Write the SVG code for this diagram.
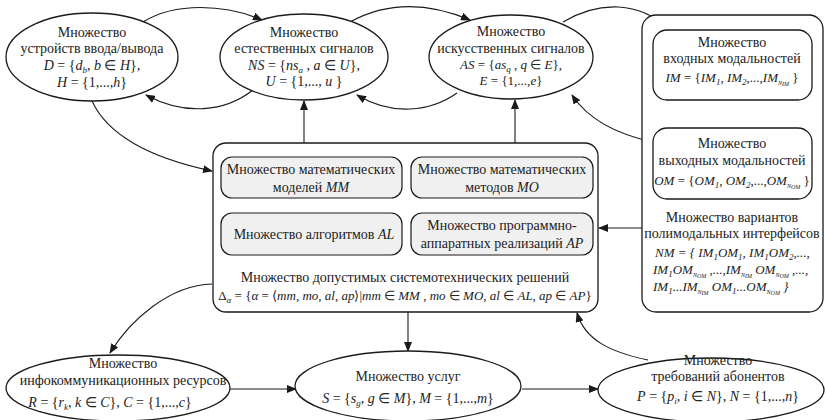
<svg xmlns="http://www.w3.org/2000/svg" width="826" height="420" viewBox="0 0 826 420">
<defs>
<marker id="ah" markerWidth="10" markerHeight="8" refX="9" refY="4" orient="auto" markerUnits="userSpaceOnUse">
<path d="M0,0 L10,4 L0,8 Z" fill="#1a1a1a"/>
</marker>
<style>
.n{fill:#fff;stroke:#1a1a1a;stroke-width:1.3}
.g{fill:#f0f0f0;stroke:#1a1a1a;stroke-width:1.2}
.c{fill:none;stroke:#1a1a1a;stroke-width:1.1;marker-end:url(#ah)}
</style>
</defs>
<rect width="826" height="420" fill="#fff"/>

<g id="connectors">
<path class="c" d="M143,22 C175,2 225,4 262,20"/>
<path class="c" d="M253,90 C225,112 185,116 146,95"/>
<path class="c" d="M350,22 C390,0 432,4 470,20"/>
<path class="c" d="M457,93 C430,112 392,116 357,95"/>
<path class="c" d="M563,22 C600,0 640,2 667,28"/>
<path class="c" d="M653,142 C620,135 590,122 572,95"/>
<path class="c" d="M92,101 C110,140 160,160 212,171"/>
<path class="c" d="M212,284 C170,285 130,320 110,353"/>
<path class="c" d="M304,143 L304,101"/>
<path class="c" d="M515,143 L515,100"/>
<path class="c" d="M642,228 L599,228"/>
<path class="c" d="M408,312 L408,351"/>
<path class="c" d="M230,389 L296,389"/>
<path class="c" d="M522,389 L598,389"/>
<path class="c" d="M648,360 C610,352 585,340 577,313"/>
</g>

<g id="devices">
<ellipse class="n" cx="92" cy="57" rx="86" ry="44"/>
<text font-family="Liberation Serif, serif" font-size="14" text-anchor="middle" fill="#222" x="92" y="37">Множество</text>
<text font-family="Liberation Serif, serif" font-size="14" text-anchor="middle" fill="#222" x="92" y="53">устройств ввода/вывода</text>
<text font-family="Liberation Serif, serif" font-size="14" text-anchor="middle" fill="#222" x="92" y="70"><tspan font-style="italic">D</tspan> = {<tspan font-style="italic">d</tspan><tspan font-style="italic" font-size="9" dy="3">b</tspan><tspan dy="-3">, </tspan><tspan font-style="italic">b</tspan> ∈ <tspan font-style="italic">H</tspan>},</text>
<text font-family="Liberation Serif, serif" font-size="14" text-anchor="middle" fill="#222" x="92" y="87"><tspan font-style="italic">H</tspan> = {1,...,<tspan font-style="italic">h</tspan>}</text>
</g>

<g id="natural">
<ellipse class="n" cx="304" cy="57" rx="84" ry="43"/>
<text font-family="Liberation Serif, serif" font-size="14" text-anchor="middle" fill="#222" x="304" y="37">Множество</text>
<text font-family="Liberation Serif, serif" font-size="14" text-anchor="middle" fill="#222" x="304" y="53">естественных сигналов</text>
<text font-family="Liberation Serif, serif" font-size="14" text-anchor="middle" fill="#222" x="304" y="70"><tspan font-style="italic">NS</tspan> = {<tspan font-style="italic">ns</tspan><tspan font-style="italic" font-size="9" dy="3">a</tspan><tspan dy="-3"> , </tspan><tspan font-style="italic">a</tspan> ∈ <tspan font-style="italic">U</tspan>},</text>
<text font-family="Liberation Serif, serif" font-size="14" text-anchor="middle" fill="#222" x="304" y="86"><tspan font-style="italic">U</tspan> = {1,..., <tspan font-style="italic">u</tspan> }</text>
</g>

<g id="artificial">
<ellipse class="n" cx="511" cy="57" rx="82" ry="42"/>
<text font-family="Liberation Serif, serif" font-size="14" text-anchor="middle" fill="#222" x="511" y="36">Множество</text>
<text font-family="Liberation Serif, serif" font-size="14" text-anchor="middle" fill="#222" x="511" y="53">искусственных сигналов</text>
<text font-family="Liberation Serif, serif" font-size="13" text-anchor="middle" fill="#222" x="511" y="69"><tspan font-style="italic">AS</tspan> = {<tspan font-style="italic">as</tspan><tspan font-style="italic" font-size="9" dy="3">q</tspan><tspan dy="-3"> , </tspan><tspan font-style="italic">q</tspan> ∈ <tspan font-style="italic">E</tspan>},</text>
<text font-family="Liberation Serif, serif" font-size="13" text-anchor="middle" fill="#222" x="511" y="85"><tspan font-style="italic">E</tspan> = {1,...,<tspan font-style="italic">e</tspan>}</text>
</g>

<g id="interfaces">
<rect class="n" x="642" y="15" width="181" height="297" rx="14"/>
<text font-family="Liberation Serif, serif" font-size="14" text-anchor="middle" fill="#222" x="732" y="222">Множество вариантов</text>
<text font-family="Liberation Serif, serif" font-size="14" text-anchor="middle" fill="#222" x="732" y="238">полимодальных интерфейсов</text>
<text font-family="Liberation Serif, serif" font-size="13" font-style="italic" fill="#222" x="655" y="257">NM = {  IM<tspan font-size="9" dy="3">1</tspan><tspan dy="-3">OM</tspan><tspan font-size="9" dy="3">1</tspan><tspan dy="-3">, IM</tspan><tspan font-size="9" dy="3">1</tspan><tspan dy="-3">OM</tspan><tspan font-size="9" dy="3">2</tspan><tspan dy="-3">,...,</tspan></text>
<text font-family="Liberation Serif, serif" font-size="13" font-style="italic" fill="#222" x="653" y="274">IM<tspan font-size="9" dy="3">1</tspan><tspan dy="-3">OM</tspan><tspan font-size="6" dy="3">N</tspan><tspan font-size="6" dy="1">OM</tspan><tspan dy="-4"> ,...,IM</tspan><tspan font-size="6" dy="3">N</tspan><tspan font-size="6" dy="1">IM</tspan><tspan dy="-4"> OM</tspan><tspan font-size="6" dy="3">N</tspan><tspan font-size="6" dy="1">OM</tspan><tspan dy="-4"> ,...,</tspan></text>
<text font-family="Liberation Serif, serif" font-size="13" font-style="italic" fill="#222" x="653" y="291">IM<tspan font-size="9" dy="3">1</tspan><tspan dy="-3">...IM</tspan><tspan font-size="6" dy="3">N</tspan><tspan font-size="6" dy="1">IM</tspan><tspan dy="-4"> OM</tspan><tspan font-size="9" dy="3">1</tspan><tspan dy="-3">...OM</tspan><tspan font-size="6" dy="3">N</tspan><tspan font-size="6" dy="1">OM</tspan><tspan dy="-4">   }</tspan></text>
</g>

<g id="input-modalities">
<rect class="n" x="653" y="30" width="159" height="70" rx="14"/>
<text font-family="Liberation Serif, serif" font-size="14" text-anchor="middle" fill="#222" x="732" y="47">Множество</text>
<text font-family="Liberation Serif, serif" font-size="14" text-anchor="middle" fill="#222" x="732" y="63">входных модальностей</text>
<text font-family="Liberation Serif, serif" font-size="13" text-anchor="middle" fill="#222" x="732" y="82"><tspan font-style="italic">IM</tspan> = {<tspan font-style="italic">IM</tspan><tspan font-style="italic" font-size="9" dy="3">1</tspan><tspan dy="-3">, </tspan><tspan font-style="italic">IM</tspan><tspan font-style="italic" font-size="9" dy="3">2</tspan><tspan dy="-3">,...,</tspan><tspan font-style="italic">IM</tspan><tspan font-style="italic" font-size="6" dy="3">N</tspan><tspan font-style="italic" font-size="6" dy="1">IM</tspan><tspan dy="-4"> }</tspan></text>
</g>

<g id="output-modalities">
<rect class="n" x="653" y="128" width="159" height="71" rx="14"/>
<text font-family="Liberation Serif, serif" font-size="14" text-anchor="middle" fill="#222" x="732" y="148">Множество</text>
<text font-family="Liberation Serif, serif" font-size="14" text-anchor="middle" fill="#222" x="732" y="165">выходных модальностей</text>
<text font-family="Liberation Serif, serif" font-size="13" text-anchor="middle" fill="#222" x="732" y="185"><tspan font-style="italic">OM</tspan> = {<tspan font-style="italic">OM</tspan><tspan font-style="italic" font-size="9" dy="3">1</tspan><tspan dy="-3">, </tspan><tspan font-style="italic">OM</tspan><tspan font-style="italic" font-size="9" dy="3">2</tspan><tspan dy="-3">,...,</tspan><tspan font-style="italic">OM</tspan><tspan font-style="italic" font-size="6" dy="3">N</tspan><tspan font-style="italic" font-size="6" dy="1">OM</tspan><tspan dy="-4"> }</tspan></text>
</g>

<g id="solutions">
<rect class="n" x="213" y="143" width="385" height="169" rx="13"/>
<text font-family="Liberation Serif, serif" font-size="14" text-anchor="middle" fill="#222" x="405" y="282">Множество допустимых системотехнических решений</text>
<text font-family="Liberation Serif, serif" font-size="13" text-anchor="middle" fill="#222" x="405" y="300">Δ<tspan font-style="italic" font-size="9" dy="3">α</tspan><tspan dy="-3"> = {</tspan><tspan font-style="italic">α</tspan> = ⟨<tspan font-style="italic">mm</tspan>, <tspan font-style="italic">mo</tspan>, <tspan font-style="italic">al</tspan>, <tspan font-style="italic">ap</tspan>⟩|<tspan font-style="italic">mm</tspan> ∈ <tspan font-style="italic">MM</tspan> , <tspan font-style="italic">mo</tspan> ∈ <tspan font-style="italic">MO</tspan>, <tspan font-style="italic">al</tspan> ∈ <tspan font-style="italic">AL</tspan>, <tspan font-style="italic">ap</tspan> ∈ <tspan font-style="italic">AP</tspan>}</text>
</g>

<g id="math-models">
<rect class="g" x="221" y="157" width="181" height="41" rx="11"/>
<text font-family="Liberation Serif, serif" font-size="14" text-anchor="middle" fill="#222" x="311" y="174">Множество математических</text>
<text font-family="Liberation Serif, serif" font-size="14" text-anchor="middle" fill="#222" x="311" y="192">моделей <tspan font-style="italic">MM</tspan></text>
</g>

<g id="math-methods">
<rect class="g" x="411" y="157" width="182" height="41" rx="11"/>
<text font-family="Liberation Serif, serif" font-size="14" text-anchor="middle" fill="#222" x="502" y="174">Множество математических</text>
<text font-family="Liberation Serif, serif" font-size="14" text-anchor="middle" fill="#222" x="502" y="192">методов <tspan font-style="italic">MO</tspan></text>
</g>

<g id="algorithms">
<rect class="g" x="221" y="213" width="181" height="42" rx="11"/>
<text font-family="Liberation Serif, serif" font-size="14" text-anchor="middle" fill="#222" x="314" y="239">Множество алгоритмов <tspan font-style="italic">AL</tspan></text>
</g>

<g id="implementations">
<rect class="g" x="411" y="213" width="182" height="42" rx="11"/>
<text font-family="Liberation Serif, serif" font-size="14" text-anchor="middle" fill="#222" x="502" y="230">Множество программно-</text>
<text font-family="Liberation Serif, serif" font-size="14" text-anchor="middle" fill="#222" x="502" y="248">аппаратных реализаций <tspan font-style="italic">AP</tspan></text>
</g>

<g id="resources">
<ellipse class="n" cx="118" cy="388" rx="112" ry="33"/>
<text font-family="Liberation Serif, serif" font-size="14" text-anchor="middle" fill="#222" x="123" y="368">Множество</text>
<text font-family="Liberation Serif, serif" font-size="14" text-anchor="middle" fill="#222" x="123" y="385">инфокоммуникационных ресурсов</text>
<text font-family="Liberation Serif, serif" font-size="14" text-anchor="middle" fill="#222" x="110" y="407"><tspan font-style="italic">R</tspan> = {<tspan font-style="italic">r</tspan><tspan font-style="italic" font-size="9" dy="3">k</tspan><tspan dy="-3">, </tspan><tspan font-style="italic">k</tspan> ∈ <tspan font-style="italic">C</tspan>}, <tspan font-style="italic">C</tspan> = {1,...,<tspan font-style="italic">c</tspan>}</text>
</g>

<g id="services">
<ellipse class="n" cx="408" cy="386" rx="113" ry="35"/>
<text font-family="Liberation Serif, serif" font-size="14" text-anchor="middle" fill="#222" x="408" y="381">Множество услуг</text>
<text font-family="Liberation Serif, serif" font-size="14" text-anchor="middle" fill="#222" x="408" y="403"><tspan font-style="italic">S</tspan> = {<tspan font-style="italic">s</tspan><tspan font-style="italic" font-size="9" dy="3">g</tspan><tspan dy="-3">, </tspan><tspan font-style="italic">g</tspan> ∈ <tspan font-style="italic">M</tspan>}, <tspan font-style="italic">M</tspan> = {1,...,<tspan font-style="italic">m</tspan>}</text>
</g>

<g id="requirements">
<ellipse class="n" cx="711" cy="390" rx="113" ry="32"/>
<text font-family="Liberation Serif, serif" font-size="14" text-anchor="middle" fill="#222" x="718" y="365">Множество</text>
<text font-family="Liberation Serif, serif" font-size="14" text-anchor="middle" fill="#222" x="718" y="381">требований абонентов</text>
<text font-family="Liberation Serif, serif" font-size="14" text-anchor="middle" fill="#222" x="718" y="401"><tspan font-style="italic">P</tspan> = {<tspan font-style="italic">p</tspan><tspan font-style="italic" font-size="9" dy="3">i</tspan><tspan dy="-3">, </tspan><tspan font-style="italic">i</tspan> ∈ <tspan font-style="italic">N</tspan>}, <tspan font-style="italic">N</tspan> = {1,...,<tspan font-style="italic">n</tspan>}</text>
</g>
</svg>
